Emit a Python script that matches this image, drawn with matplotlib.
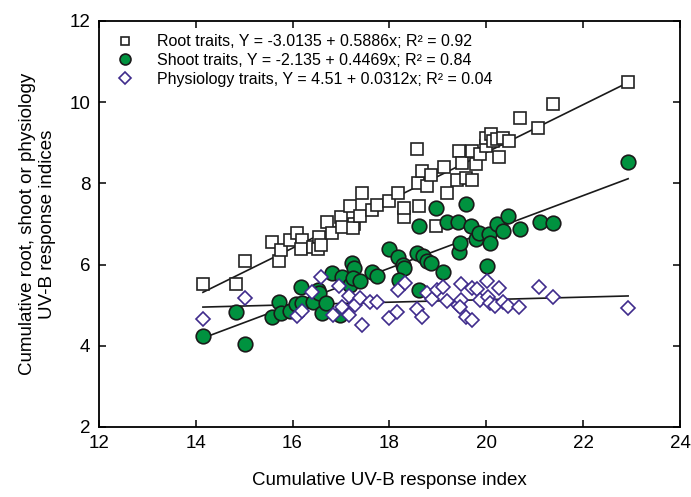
import matplotlib
matplotlib.use("Agg")
import matplotlib.pyplot as plt
import numpy as np

plt.rcParams["font.family"] = ["Liberation Sans", "DejaVu Sans"]

# ---------------------------------------------------------------------------
# Data
# ---------------------------------------------------------------------------
root_x = [14.15, 14.83, 15.02, 15.57, 15.72, 15.76, 15.95, 16.09, 16.19, 16.17,
          16.42, 16.55, 16.53, 16.59, 16.71, 16.81, 17.00, 17.02, 17.19, 17.27,
          17.25, 17.39, 17.43, 17.64, 17.74, 17.99, 18.18, 18.30, 18.30, 18.61,
          18.57, 18.59, 18.67, 18.78, 18.86, 18.96, 19.19, 19.13, 19.40, 19.44,
          19.50, 19.58, 19.71, 19.71, 19.79, 19.87, 20.00, 20.00, 20.10, 20.14,
          20.27, 20.22, 20.35, 20.47, 20.70, 21.07, 21.38, 22.93]
root_y = [5.53, 5.53, 6.09, 6.56, 6.09, 6.36, 6.60, 6.78, 6.60, 6.38,
          6.43, 6.68, 6.38, 6.48, 7.05, 6.78, 7.17, 6.93, 7.44, 7.00,
          6.90, 7.20, 7.76, 7.34, 7.47, 7.57, 7.76, 7.17, 7.39, 7.44,
          8.85, 8.01, 8.31, 7.94, 8.20, 6.95, 7.76, 8.40, 8.08, 8.80,
          8.50, 8.13, 8.80, 8.08, 8.47, 8.72, 8.92, 9.12, 9.21, 9.04,
          8.65, 9.10, 9.12, 9.04, 9.60, 9.37, 9.96, 10.50]

shoot_x = [14.15, 14.83, 15.02, 15.57, 15.72, 15.76, 15.95, 16.08, 16.17, 16.19,
           16.42, 16.52, 16.55, 16.60, 16.70, 16.82, 16.98, 17.02, 17.18, 17.23,
           17.27, 17.25, 17.39, 17.64, 17.74, 17.99, 18.18, 18.28, 18.30, 18.20,
           18.57, 18.61, 18.69, 18.78, 18.86, 19.11, 18.61, 18.96, 19.19, 19.42,
           19.58, 19.69, 19.44, 19.46, 19.79, 19.85, 20.06, 20.08, 20.02, 20.22,
           20.35, 20.45, 20.70, 21.10, 21.38, 22.93]
shoot_y = [4.24, 4.83, 4.04, 4.71, 5.08, 4.81, 4.86, 5.02, 5.44, 5.05,
           5.08, 5.38, 5.30, 4.81, 5.05, 5.79, 4.76, 5.69, 5.50, 6.04,
           5.92, 5.67, 5.60, 5.82, 5.72, 6.38, 6.19, 5.99, 5.92, 5.62,
           6.28, 5.37, 6.21, 6.09, 6.04, 5.82, 6.95, 7.39, 7.05, 7.05,
           7.49, 6.95, 6.31, 6.53, 6.63, 6.78, 6.75, 6.53, 5.97, 7.00,
           6.83, 7.20, 6.88, 7.04, 7.02, 8.53]

phys_x = [14.15, 15.02, 16.09, 16.20, 16.40, 16.58, 16.83, 16.96, 17.02, 17.17,
          17.17, 17.28, 17.39, 17.43, 17.60, 17.74, 17.99, 18.16, 18.18, 18.32,
          18.57, 18.67, 18.78, 18.87, 18.98, 19.11, 19.19, 19.41, 19.47, 19.48,
          19.46, 19.58, 19.71, 19.70, 19.80, 19.87, 20.02, 20.04, 20.08, 20.19,
          20.27, 20.34, 20.45, 20.68, 21.08, 21.38, 22.93]
phys_y = [4.66, 5.18, 4.72, 4.85, 5.33, 5.69, 4.76, 5.47, 4.96, 5.22,
          4.76, 5.00, 5.18, 4.51, 5.08, 5.08, 4.68, 4.83, 5.36, 5.55,
          4.90, 4.71, 5.31, 5.15, 5.37, 5.45, 5.11, 5.00, 5.52, 5.12,
          4.96, 4.71, 4.64, 5.43, 5.40, 5.13, 5.60, 5.20, 5.05, 4.98,
          5.42, 5.08, 4.98, 4.95, 5.45, 5.20, 4.93]

# regression coefficients (intercept, slope) as given in the legend
intercepts = [-3.0135, -2.135, 4.51]
slopes = [0.5886, 0.4469, 0.0312]
labels = [
    "Root traits, Y = -3.0135 + 0.5886x; R\u00b2 = 0.92",
    "Shoot traits, Y = -2.135 + 0.4469x; R\u00b2 = 0.84",
    "Physiology traits, Y = 4.51 + 0.0312x; R\u00b2 = 0.04",
]

fig, ax = plt.subplots(figsize=(6.91, 4.97), dpi=100)
fig.subplots_adjust(left=0.143, right=0.984, top=0.958, bottom=0.141)

series = [(root_x, root_y), (shoot_x, shoot_y), (phys_x, phys_y)]
styles = [
    dict(marker="s", ms=8, mfc="white", mec="#222222", mew=1.2),
    dict(marker="o", ms=10.5, mfc="#00923F", mec="#1a1a1a", mew=1.2),
    dict(marker="D", ms=7.5, mfc="white", mec="#3F2B8C", mew=1.2),
]

handles = []
for (xs, ys), st, b0, b1, lbl in zip(series, styles, intercepts, slopes, labels):
    h, = ax.plot(xs, ys, ls="none", label=lbl, zorder=3, **st)
    handles.append(h)
    xl = np.array([min(xs), max(xs)])
    ax.plot(xl, b0 + b1 * xl, color="#1a1a1a", lw=1.2, zorder=2)

ax.set_xlim(12, 24)
ax.set_ylim(2, 12)
ax.set_xticks(np.arange(12, 25, 2))
ax.set_yticks(np.arange(2, 13, 2))
ax.tick_params(direction="in", length=5, width=1.1, top=True, right=True,
               labelsize=13.5, pad=6)
for s in ax.spines.values():
    s.set_linewidth(1.3)

ax.set_xlabel("Cumulative UV-B response index", fontsize=13.5, labelpad=14)
ax.set_ylabel("Cumulative root, shoot or physiology\nUV-B response indices",
              fontsize=13.5, labelpad=10)

leg = ax.legend(handles=handles, loc="upper left", bbox_to_anchor=(0.012, 0.994),
                frameon=False, fontsize=11.5, markerscale=0.75, handlelength=1.0,
                handletextpad=1.5, labelspacing=0.22, borderpad=0.2)

fig.savefig("out.png", dpi=100)
